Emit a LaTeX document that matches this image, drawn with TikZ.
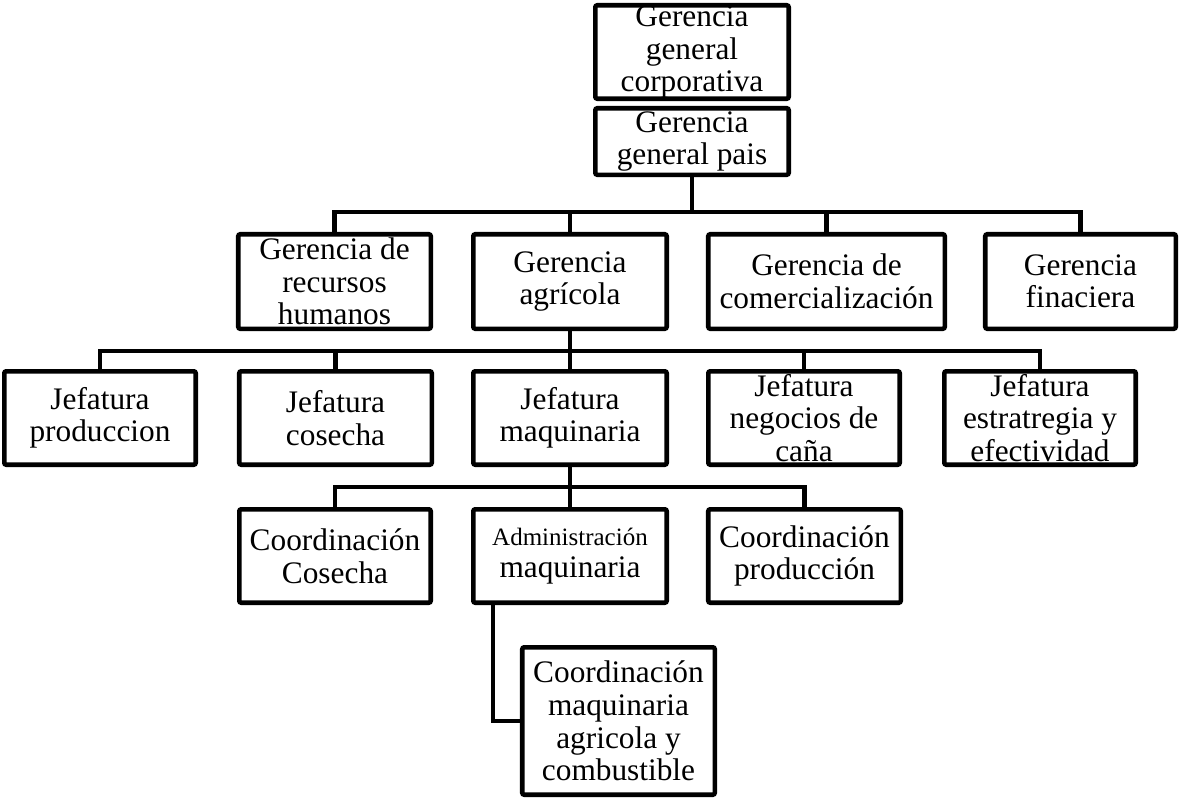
\documentclass[tikz,border=0pt]{standalone}
\usepackage{fontspec}
\setmainfont{Liberation Serif}
\begin{document}
\begin{tikzpicture}[x=0.75pt,y=-0.75pt,
  box/.style={draw, line width=3.4pt, rounded corners=1.5pt, align=center, inner sep=0pt,
    font=\fontsize{23.5}{24.4}\selectfont},
  r2/.style={box, minimum height=70.9pt},
  r3/.style={box, minimum height=70.1pt},
  conn/.style={line width=3.4pt, line join=miter}]
\useasboundingbox (0,0) rectangle (1180,799);
\fill[white] (0,0) rectangle (1180,799);
% top
\node[box, minimum width=145.1pt, minimum height=70.1pt] (corp) at (692,52) {Gerencia\\general\\corporativa};
\node[box, minimum width=145.1pt, minimum height=49.9pt] (pais) at (692,141.5) {Gerencia\\general pais};
% row 2
\node[r2, minimum width=144.4pt] (rh) at (334.5,281.5) {Gerencia de\\recursos\\humanos};
\node[r2, minimum width=145.1pt] (agr) at (570,281.5) {Gerencia\\agrícola};
\node[r2, minimum width=177.4pt] (com) at (826.5,281.5) {Gerencia de\\comercialización};
\node[r2, minimum width=142.9pt] (fin) at (1080.5,281.5) {Gerencia\\finaciera};
% row 3
\node[r3, minimum width=143.6pt] (prod) at (100,418) {Jefatura\\produccion};
\node[r3, minimum width=144.4pt] (cos) at (335.5,418) {Jefatura\\cosecha};
\node[r3, minimum width=145.1pt] (maq) at (570,418) {Jefatura\\maquinaria};
\node[r3, minimum width=143.6pt] (neg) at (804,418) {Jefatura\\negocios de\\caña};
\node[r3, minimum width=143.6pt] (est) at (1040,418) {Jefatura\\estratregia y\\efectividad};
% row 4
\node[r3, minimum width=143.6pt] (cc) at (335,556) {Coordinación\\Cosecha};
\node[r3, minimum width=145.1pt] (adm) at (570,556) {{\fontsize{18.75}{24.4}\selectfont Administración}\\maquinaria};
\node[r3, minimum width=144.4pt] (cp) at (804.5,556) {Coordinación\\producción};
% bottom
\node[box, minimum width=144.4pt, minimum height=110.6pt] (cmb) at (618.5,721) {Coordinación\\maquinaria\\agricola y\\combustible};
% connectors
\coordinate (b1) at (692,212);
\coordinate (b2) at (570,351);
\coordinate (b3) at (570,487);
\draw[conn] (pais.south) -- (b1);
\draw[conn] (rh.north) |- (b1) -| (fin.north);
\draw[conn] (agr.north) -- (agr.north |- b1);
\draw[conn] (com.north) -- (com.north |- b1);
\draw[conn] (prod.north) |- (b2) -| (est.north);
\draw[conn] (agr.south) -- (maq.north);
\draw[conn] (cos.north) -- (cos.north |- b2);
\draw[conn] (neg.north) -- (neg.north |- b2);
\draw[conn] (cc.north) |- (b3) -| (cp.north);
\draw[conn] (maq.south) -- (adm.north);
\draw[conn] ([xshift=-57.75pt]adm.south) |- (cmb.west);
\end{tikzpicture}
\end{document}
